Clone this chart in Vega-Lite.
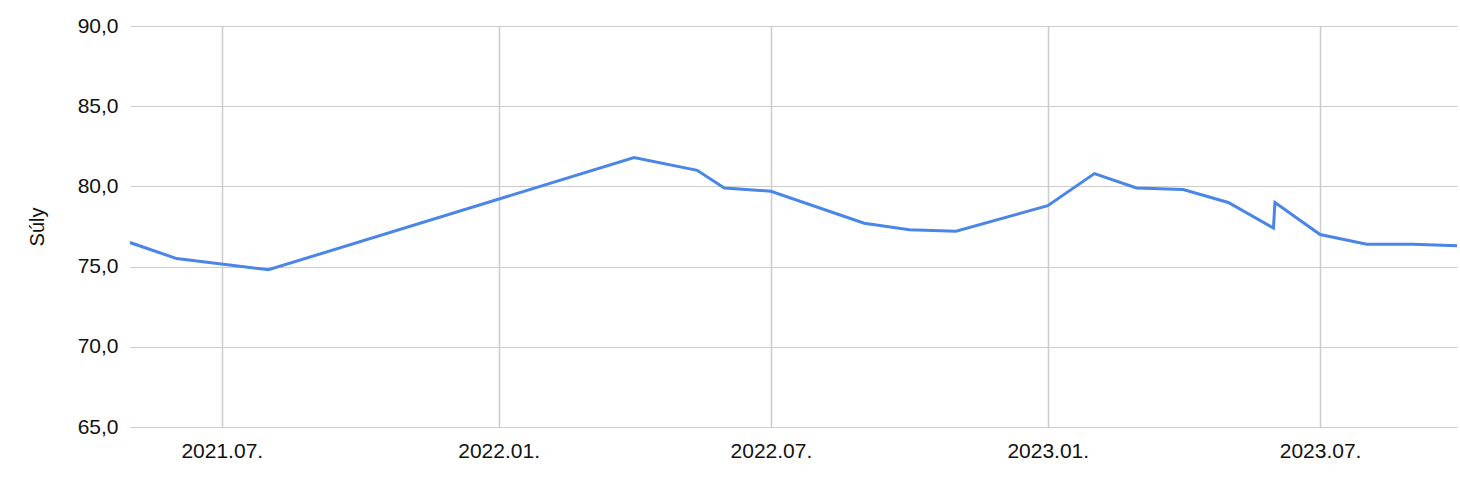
{
  "$schema": "https://vega.github.io/schema/vega-lite/v6.json",
  "width": 1327,
  "height": 401,
  "autosize": {"type": "none"},
  "padding": {"left": 130, "top": 26, "right": 3, "bottom": 57},
  "background": "white",
  "config": {
    "view": {"stroke": null},
    "font": "Liberation Sans",
    "axis": {"labelFont": "Liberation Sans", "titleFont": "Liberation Sans", "labelColor": "#111111", "titleColor": "#111111", "gridColor": "#cccccc", "gridWidth": 1, "domain": false, "ticks": false}
  },
  "data": {
    "values": [
      {"date": "2021-05-01", "weight": 76.5},
      {"date": "2021-06-01", "weight": 75.5},
      {"date": "2021-08-01", "weight": 74.8},
      {"date": "2022-04-01", "weight": 81.8},
      {"date": "2022-05-13", "weight": 81.0},
      {"date": "2022-05-31", "weight": 79.9},
      {"date": "2022-07-01", "weight": 79.7},
      {"date": "2022-09-01", "weight": 77.7},
      {"date": "2022-10-01", "weight": 77.3},
      {"date": "2022-11-01", "weight": 77.2},
      {"date": "2023-01-01", "weight": 78.8},
      {"date": "2023-02-01", "weight": 80.8},
      {"date": "2023-03-01", "weight": 79.9},
      {"date": "2023-04-01", "weight": 79.8},
      {"date": "2023-05-01", "weight": 79.0},
      {"date": "2023-05-31", "weight": 77.4},
      {"date": "2023-06-01", "weight": 79.0},
      {"date": "2023-07-01", "weight": 77.0},
      {"date": "2023-08-01", "weight": 76.4},
      {"date": "2023-09-01", "weight": 76.4},
      {"date": "2023-09-30", "weight": 76.3}
    ]
  },
  "mark": {"type": "line", "color": "#4a86e8", "strokeWidth": 3, "clip": true, "strokeJoin": "miter"},
  "encoding": {
    "x": {
      "field": "date",
      "type": "temporal",
      "scale": {"domain": [{"year": 2021, "month": 5, "date": 1}, {"year": 2023, "month": 9, "date": 30}], "nice": false},
      "axis": {
        "title": null,
        "values": [{"year": 2021, "month": 7, "date": 1}, {"year": 2022, "month": 1, "date": 1}, {"year": 2022, "month": 7, "date": 1}, {"year": 2023, "month": 1, "date": 1}, {"year": 2023, "month": 7, "date": 1}],
        "format": "%Y.%m.",
        "labelFontSize": 21,
        "labelPadding": 13,
        "gridColor": "#cccccc",
        "gridWidth": 1.5
      }
    },
    "y": {
      "field": "weight",
      "type": "quantitative",
      "scale": {"domain": [65, 90], "nice": false, "zero": false},
      "axis": {
        "title": "Súly",
        "titleFontSize": 20,
        "titleFontWeight": "normal",
        "titlePadding": 30,
        "values": [65, 70, 75, 80, 85, 90],
        "labelExpr": "replace(format(datum.value, '.1f'), '.', ',')",
        "labelFontSize": 21,
        "labelPadding": 12
      }
    }
  }
}
